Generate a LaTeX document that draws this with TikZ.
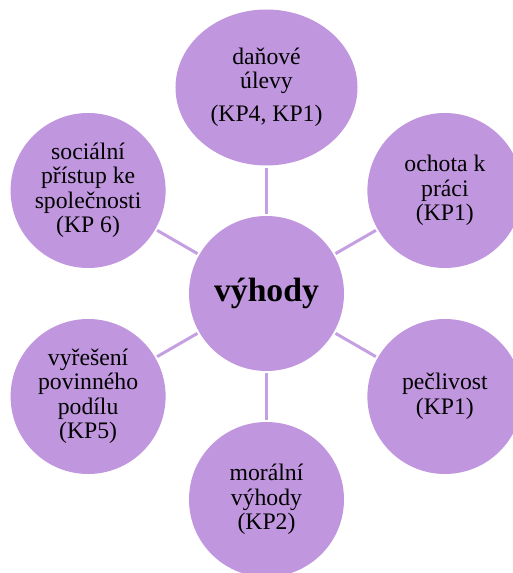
\documentclass[tikz,border=0pt]{standalone}
\usepackage{fontspec}
\setmainfont{Liberation Serif}
\usetikzlibrary{shapes.geometric,calc}
\definecolor{bubble}{RGB}{192,150,222}
\definecolor{spoke}{RGB}{196,160,226}
\tikzset{
  leaf/.style={circle,fill=bubble,minimum size=155pt,inner sep=0pt,align=center,
    font=\fontsize{23.7}{24.5}\selectfont},
  spokeline/.style={draw=spoke,line width=3pt,shorten <=2pt,shorten >=2pt}
}

\begin{document}
\begin{tikzpicture}[x=1pt,y=1pt]
  \def\d{206}
  \useasboundingbox(-266.5,-279.5)rectangle(245.5,293.5);
  \node[leaf,font=\fontsize{33.7}{36}\selectfont\bfseries](vyhody) at (0,0){výhody};
  \node[leaf,ellipse,minimum width=182pt,minimum height=156pt](dane) at (90:\d){daňové\\úlevy\\[8.5pt](KP4, KP1)};
  \node[leaf](ochota) at (30:\d){ochota k\\práci\\(KP1)};
  \node[leaf](peclivost) at (-30:\d){pečlivost\\(KP1)};
  \node[leaf](moralni) at (-90:\d){morální\\výhody\\(KP2)};
  \node[leaf](podil) at (-150:\d){vyřešení\\povinného\\podílu\\(KP5)};
  \node[leaf](socialni) at (150:\d){sociální\\přístup ke\\společnosti\\(KP 6)};
  \foreach \n in {dane,ochota,peclivost,moralni,podil,socialni}
    \draw[spokeline](vyhody)--(\n);
\end{tikzpicture}
\end{document}
